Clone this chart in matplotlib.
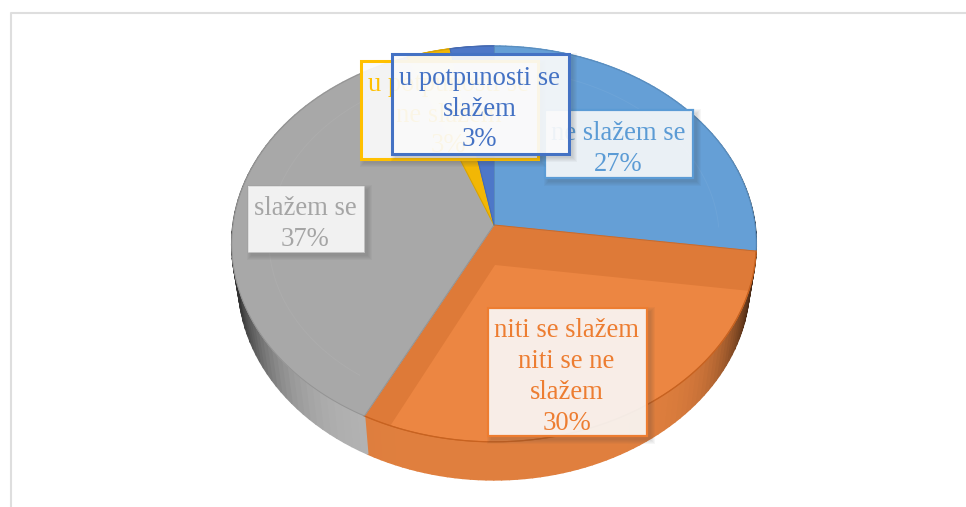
import numpy as np
import matplotlib
matplotlib.use("Agg")
import matplotlib.pyplot as plt
from matplotlib.patches import Polygon, Rectangle
from matplotlib.collections import PolyCollection
from matplotlib.colors import to_rgb

categories = ["ne slažem se", "niti se slažem\nniti se ne\nslažem", "slažem se",
              "u potpunosti se\nne slažem", "u potpunosti se\nslažem"]
values = [27.1, 30.4, 36.6, 2.95, 2.95]
face_colors = ["#659FD6", "#DE7A38", "#A8A8A8", "#F2B705", "#4D77C8"]
wall_colors = ["#5B93C8", "#E07F3E", "#B4B4B4", "#E0AA05", "#4468B0"]
edge_colors = ["#5B9BD5", "#ED7D31", "#D6D6D6", "#FFC000", "#4472C4"]
text_colors = ["#5B9BD5", "#ED7D31", "#A5A5A5", "#FFC000", "#4472C4"]
# label boxes: x0, y0, x1, y1 in pixels
boxes = [(545, 110, 693, 178), (488, 308, 647, 436), (248, 186, 364, 252),
         (361, 61, 538, 159), (392, 54, 569, 154)]
box_lw = [1.6, 1.6, 0.5, 2.2, 2.2]
box_alpha = [0.88, 0.88, 0.88, 0.90, 0.90]

CX, CY, RX, RY, K, DEPTH, BASE_X = 494, 225, 261, 196, 0.096, 38, 0.975


def project(theta, r=1.0, dy=0.0, xs=1.0):
    u, v = r * np.sin(theta), r * np.cos(theta)
    w = 1 + K * v
    return np.column_stack((CX + xs * RX * u / w, CY - RY * v / w + dy))


fig = plt.figure(figsize=(9.66, 5.07), dpi=100)
ax = fig.add_axes([0, 0, 1, 1])
ax.set_xlim(0, 966)
ax.set_ylim(507, 0)
ax.axis("off")

# chart frame
ax.plot([11, 11, 966], [507, 12.5, 12.5], color="#DEDEDE", lw=1.5, solid_capstyle="butt", zorder=1)

fractions = np.cumsum([0] + values) / sum(values)
angles = fractions * 2 * np.pi

# side walls
for i in range(len(values)):
    th = np.linspace(angles[i], angles[i + 1], 70)
    top = project(th)
    bot = project(th, dy=DEPTH, xs=BASE_X)
    quads, cols = [], []
    base = np.array(to_rgb(wall_colors[i]))
    for j in range(len(th) - 1):
        quads.append([top[j], top[j + 1], bot[j + 1], bot[j]])
        t = min(abs(top[j, 0] - CX) / RX, 1)
        power = 6 if top[j, 0] < CX else 9
        cols.append(base * (1 - 0.72 * t ** power))
    ax.add_collection(PolyCollection(quads, facecolors=cols, edgecolors=cols, linewidths=1.2, zorder=2))

# top faces
for i in range(len(values)):
    th = np.linspace(angles[i], angles[i + 1], 120)
    pts = np.vstack(([[CX, CY]], project(th)))
    ax.add_patch(Polygon(pts, closed=True, fc=face_colors[i], ec=face_colors[i], lw=0.5, zorder=3))
    if i == 1:
        light = Polygon([(495, 265), (760, 292), (760, 480), (355, 480)], closed=True,
                        fc="#EC8642", ec="none", zorder=3.1)
        ax.add_patch(light)
        light.set_clip_path(Polygon(pts, closed=True, transform=ax.transData))
        ax.plot(*project(th).T, color="#C9621F", lw=0.9, zorder=3.3)
    if i in (0, 2):
        inner = project(np.linspace(angles[i] + 0.12, angles[i + 1] - 0.12, 80), r=0.86)
        ax.plot(*inner.T, color="white", lw=0.7, alpha=0.05, zorder=3.2)
    dark = np.array(to_rgb(face_colors[i])) * 0.88
    ax.plot(*project(th).T, color=dark, lw=0.7, zorder=3.25)
    edge = project(np.array([angles[i]]))[0]
    ax.plot([CX, edge[0]], [CY, edge[1]], color=dark, lw=0.7, zorder=3.3)

# data labels
for i, (cat, val) in enumerate(zip(categories, values)):
    x0, y0, x1, y1 = boxes[i]
    z = 5 + i
    for grow in range(9, 0, -2):
        ax.add_patch(Rectangle((x0 + 3 - grow / 2, y0 + 3 - grow / 2), x1 - x0 + grow, y1 - y0 + grow,
                               fc="#404040", ec="none", alpha=0.045, zorder=z))
    ax.add_patch(Rectangle((x0, y0), x1 - x0, y1 - y0, fc="white", ec="none",
                           alpha=box_alpha[i], zorder=z + 0.1))
    ax.add_patch(Rectangle((x0, y0), x1 - x0, y1 - y0, fc="none", ec=edge_colors[i],
                           lw=box_lw[i], zorder=z + 0.2))
    ax.text((x0 + x1) / 2 - 1, (y0 + y1) / 2 + 5, f"{cat}\n{round(val)}%", ha="center", va="center",
            family="Liberation Serif", fontsize=19.2, color=text_colors[i],
            linespacing=1.3, zorder=z + 0.3)

fig.savefig("out.png", dpi=100, facecolor="white")
